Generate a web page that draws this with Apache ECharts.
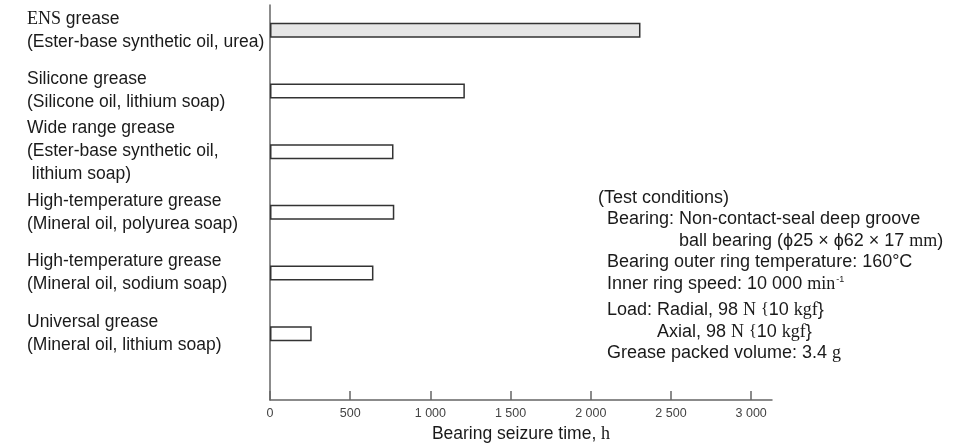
<!DOCTYPE html>
<html>
<head>
<meta charset="utf-8">
<script src="https://cdn.jsdelivr.net/npm/echarts@6/dist/echarts.min.js"></script>
<style>html,body{margin:0;padding:0;background:#fff}#c{width:975px;height:444px}</style>
</head>
<body>
<div id="c"></div>
<script>
// ---- data ----
const categories = [
  'ENS grease\n(Ester-base synthetic oil, urea)',
  'Silicone grease\n(Silicone oil, lithium soap)',
  'Wide range grease\n(Ester-base synthetic oil,\n lithium soap)',
  'High-temperature grease\n(Mineral oil, polyurea soap)',
  'High-temperature grease\n(Mineral oil, sodium soap)',
  'Universal grease\n(Mineral oil, lithium soap)'
];
const seizureHours = [2310, 1215, 770, 775, 645, 260];
const barFills = ['#e6e6e6', '#ffffff', '#ffffff', '#ffffff', '#ffffff', '#ffffff'];
const xTicks = [0, 500, 1000, 1500, 2000, 2500, 3000];
const xMax = 3130;
const xTitle = 'Bearing seizure time, {s|h}';
const conditions = [
  '(Test conditions)',
  'Bearing: Non-contact-seal deep groove',
  'ball bearing (ϕ25 × ϕ62 × 17 {s|mm})',
  'Bearing outer ring temperature: 160°C',
  'Inner ring speed: 10 000 {s|min}{sup|-1}',
  'Load: Radial, 98 {s|N} {b|{}10 {s|kgf}{b|}}',
  'Axial, 98 {s|N} {b|{}10 {s|kgf}{b|}}',
  'Grease packed volume: 3.4 {s|g}'
];

const SANS = '"Liberation Sans", Arial, sans-serif';
const SERIF = '"Liberation Serif", "Times New Roman", serif';
const TXT = '#1a1a1a';
const richCommon = {
  s: {fontFamily: SERIF, fontSize: 18, color: TXT},
  b: {fontFamily: SERIF, fontSize: 16, color: TXT},
  sup: {fontFamily: SANS, fontSize: 9, color: TXT, verticalAlign: 'top', padding: [0,0,8,1]}
};

const chart = echarts.init(document.getElementById('c'), null, {renderer: 'canvas'});

const condX = [598, 607, 679, 607, 607, 607, 657, 607];
const condY = [200, 221, 243, 264, 286, 312, 334, 355];
const graphics = conditions.map((t, i) => ({
  type: 'text',
  left: condX[i], top: condY[i] - 11,
  style: {
    text: t, fontFamily: SANS, fontSize: 18, fill: TXT,
    rich: richCommon
  }
}));

chart.setOption({
  animation: false,
  backgroundColor: '#fff',
  grid: [
    {left: 270, right: 203, top: 5, bottom: 44, outerBoundsMode: 'none', containLabel: false},
    {left: 270, right: 203, top: 0, bottom: 80, outerBoundsMode: 'none', containLabel: false}
  ],
  xAxis: [
    {
      gridIndex: 0, type: 'value', min: 0, max: xMax,
      axisLine: {show: true, lineStyle: {color: '#666', width: 1.5}},
      axisTick: {show: true, inside: true, length: 9, customValues: xTicks, lineStyle: {color: '#666', width: 1.5}},
      axisLabel: {
        customValues: xTicks, margin: 7, fontFamily: SANS, fontSize: 12.5, color: '#444',
        formatter: v => String(v).replace(/\B(?=(\d{3})+(?!\d))/g, ' ')
      },
      splitLine: {show: false},
      name: xTitle, nameLocation: 'middle', nameGap: 25,
      nameTextStyle: {fontFamily: SANS, fontSize: 17.5, color: TXT, rich: richCommon}
    },
    {
      gridIndex: 1, type: 'value', min: 0, max: xMax, show: false
    }
  ],
  yAxis: [
    {
      gridIndex: 0, type: 'value', min: 0, max: 1,
      axisLine: {show: true, lineStyle: {color: '#666', width: 1.5}},
      axisTick: {show: false}, axisLabel: {show: false}, splitLine: {show: false}
    },
    {
      gridIndex: 1, type: 'category', data: categories, inverse: true,
      axisLine: {show: false}, axisTick: {show: false}, splitLine: {show: false},
      axisLabel: {
        align: 'left', margin: 243, fontFamily: SANS, fontSize: 17.5, color: TXT, lineHeight: 23,
        formatter: v => v.replace(/^ENS/, '{e|ENS}'),
        rich: {e: {fontFamily: SERIF, fontSize: 18, color: TXT, lineHeight: 23}}
      }
    }
  ],
  series: [{
    type: 'bar', xAxisIndex: 1, yAxisIndex: 1, barWidth: 15,
    data: seizureHours.map((v, i) => ({value: v, itemStyle: {color: barFills[i]}})),
    itemStyle: {borderColor: '#333', borderWidth: 1.5}
  }],
  graphic: graphics
});
</script>
</body>
</html>
